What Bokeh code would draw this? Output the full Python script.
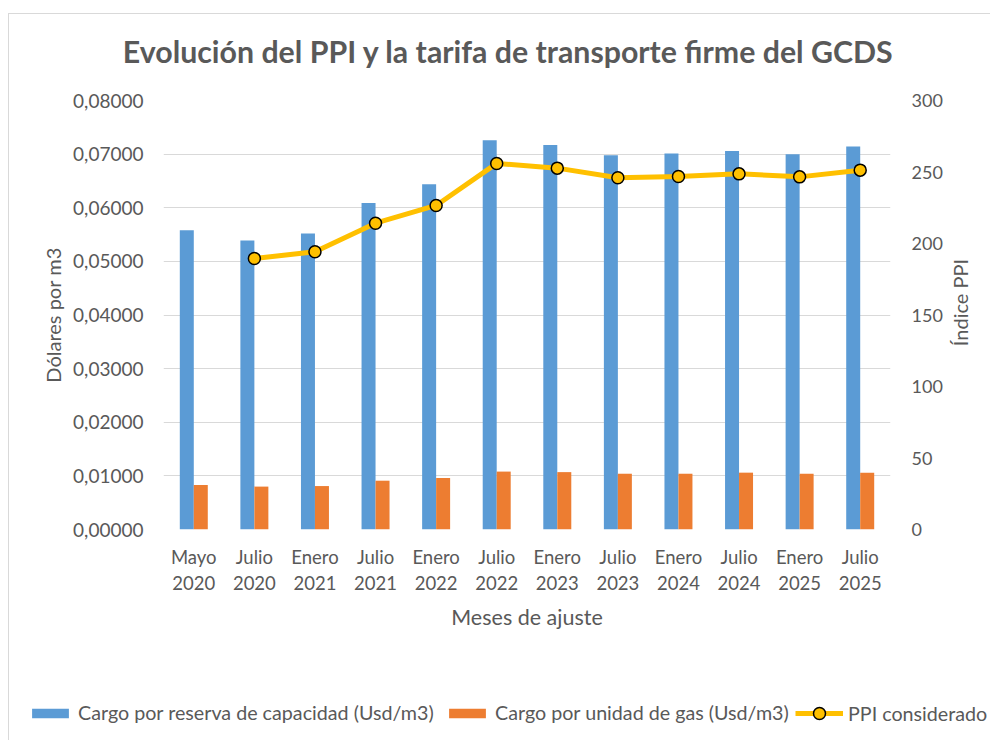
import math
from bokeh.plotting import figure
from bokeh.layouts import column, row
from bokeh.models import (ColumnDataSource, FactorRange, Range1d, LinearAxis, FixedTicker,
                          CustomJSTickFormatter, Legend, LegendItem, Label)
from bokeh.transform import dodge
from bokeh.embed import file_html
from bokeh.resources import INLINE

nan = float("nan")

categories = ["Mayo\n2020", "Julio\n2020", "Enero\n2021", "Julio\n2021", "Enero\n2022", "Julio\n2022",
              "Enero\n2023", "Julio\n2023", "Enero\n2024", "Julio\n2024", "Enero\n2025", "Julio\n2025"]
cargo_reserva = [0.0558, 0.0539, 0.0552, 0.0609, 0.0644, 0.0726, 0.0717, 0.0698, 0.0701, 0.0706, 0.0700, 0.0714]
cargo_unidad = [0.0083, 0.0080, 0.0081, 0.0091, 0.0096, 0.0108, 0.0107, 0.0104, 0.0104, 0.0106, 0.0104, 0.0106]
ppi = [nan, 189.5, 194.2, 214.2, 226.6, 256.0, 252.7, 246.0, 246.9, 248.7, 246.6, 251.3]
left_ticks = [0.0, 0.01, 0.02, 0.03, 0.04, 0.05, 0.06, 0.07, 0.08]
right_ticks = [0, 50, 100, 150, 200, 250, 300]

TXT = "#595959"
FONT = "Lato"
BLUE, ORANGE, YELLOW = "#5B9BD5", "#ED7D31", "#FFC000"


def strip(w, h):
    f = figure(width=w, height=h, output_backend="svg", toolbar_location=None,
               x_range=Range1d(0, 1), y_range=Range1d(0, 1), x_axis_type=None, y_axis_type=None,
               min_border=0)
    f.frame_align = False
    f.outline_line_color = None
    f.xgrid.visible = False
    f.ygrid.visible = False
    f.border_fill_color = "white"
    f.background_fill_color = "white"
    return f


# title strip
t = strip(981, 60)
t.add_layout(Label(x=499, y=24, x_units="screen", y_units="screen",
                   text="Evolución del PPI y la tarifa de transporte firme del GCDS",
                   text_font=FONT, text_font_size="30.3px", text_font_style="bold",
                   text_color=TXT, text_align="center", text_baseline="middle"))

src = ColumnDataSource(dict(cat=categories, res=cargo_reserva, uni=cargo_unidad, ppi=ppi))

p = figure(x_range=FactorRange(*categories, range_padding=0), y_range=Range1d(0, 0.08),
           width=936, height=616, output_backend="svg", toolbar_location=None,
           min_border_left=154, min_border_right=54, min_border_top=26, min_border_bottom=161)
p.frame_align = False
p.outline_line_color = None
p.background_fill_color = "white"
p.border_fill_color = "white"
p.extra_y_ranges = {"ppi": Range1d(0, 300)}

r1 = p.vbar(x=dodge("cat", -0.1155, range=p.x_range), top="res", width=0.231, source=src,
            fill_color=BLUE, line_color=None)
r2 = p.vbar(x=dodge("cat", 0.1155, range=p.x_range), top="uni", width=0.231, source=src,
            fill_color=ORANGE, line_color=None)
r3 = p.line(x="cat", y="ppi", source=src, y_range_name="ppi", line_color=YELLOW, line_width=5)
r4 = p.scatter(x="cat", y="ppi", source=src, y_range_name="ppi", size=12, fill_color=YELLOW,
               line_color="black", line_width=1.5)

p.xgrid.grid_line_color = None
p.ygrid.grid_line_color = "#d9d9d9"
p.ygrid.grid_line_width = 1

yl = p.yaxis[0]
yl.ticker = FixedTicker(ticks=left_ticks)
yl.formatter = CustomJSTickFormatter(code="return tick.toFixed(5).replace('.', ',');")
yl.axis_label = "Dólares por m3"

yr = LinearAxis(y_range_name="ppi", ticker=FixedTicker(ticks=right_ticks))
p.add_layout(yr, "right")

xa = p.xaxis[0]
xa.axis_label = "Meses de ajuste"

for ax in [yl, yr, xa]:
    ax.axis_line_color = None
    ax.major_tick_line_color = None
    ax.minor_tick_line_color = None
    ax.major_tick_out = 0
    ax.major_tick_in = 0
    ax.major_label_text_font = FONT
    ax.major_label_text_font_size = "18.5px"
    ax.major_label_text_color = TXT
    ax.axis_label_text_font = FONT
    ax.axis_label_text_font_size = "20px"
    ax.axis_label_text_font_style = "normal"
    ax.axis_label_text_color = TXT

yl.major_label_text_font_size = "19px"
yr.major_label_text_font_size = "18px"
xa.axis_label_text_font_size = "21.5px"
yl.major_label_standoff = 20
yl.axis_label_standoff = 5
yr.major_label_standoff = 21
xa.major_label_standoff = 16
xa.major_label_text_line_height = 1.22
xa.axis_label_standoff = 7

# right strip holding the secondary axis title (reads bottom-to-top)
r = strip(45, 616)
r.add_layout(Label(x=14, y=388, x_units="screen", y_units="screen", text="Índice PPI",
                   angle=math.pi / 2, text_align="center", text_baseline="middle",
                   text_font=FONT, text_font_size="20px", text_color=TXT))

# legend strip
q = strip(981, 50)
l1 = q.vbar(x=[5], top=[5], bottom=[4], width=0.1, fill_color=BLUE, line_color=None)
l2 = q.vbar(x=[5], top=[5], bottom=[4], width=0.1, fill_color=ORANGE, line_color=None)
l3 = q.line(x=[5, 6], y=[5, 5], line_color=YELLOW, line_width=5)
l4 = q.scatter(x=[5], y=[5], fill_color=YELLOW, line_color="black", line_width=1.5)

common = dict(orientation="horizontal", label_standoff=5, spacing=0, padding=0, margin=0,
              border_line_color=None, background_fill_alpha=0,
              label_text_font=FONT, label_text_font_size="19.7px", label_text_color=TXT)
q.add_layout(Legend(items=[LegendItem(label="Cargo por reserva de capacidad (Usd/m3)", renderers=[l1])],
                    location=(18, 16), glyph_width=46, glyph_height=12, label_height=22, **common))
q.add_layout(Legend(items=[LegendItem(label="Cargo por unidad de gas (Usd/m3)", renderers=[l2])],
                    location=(435, 16), glyph_width=46, glyph_height=12, label_height=22, **common))
q.add_layout(Legend(items=[LegendItem(label="PPI considerado", renderers=[l3, l4])],
                    location=(786, 12), glyph_width=48, glyph_height=30, **common))

layout = column(t, row(p, r, spacing=0), q, margin=(13, 0, 0, 8), spacing=0,
                styles={"border-top": "1px solid #d9d9d9", "border-left": "1px solid #d9d9d9"})

open("out.html", "w").write(file_html(layout, INLINE))
